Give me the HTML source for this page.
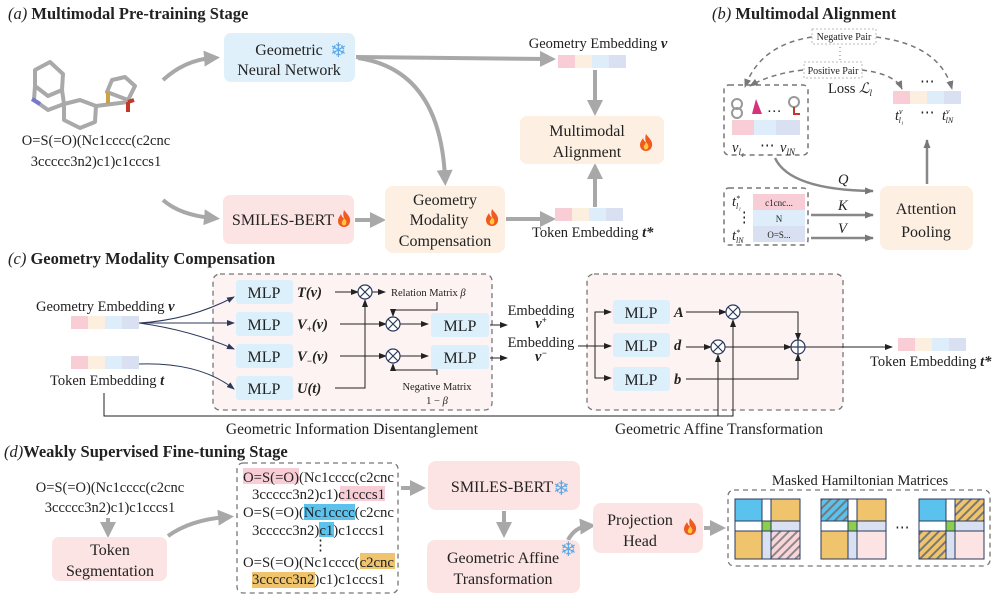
<!DOCTYPE html>
<html><head><meta charset="utf-8"><style>
html,body{margin:0;padding:0;background:#fff}
svg{display:block}
text{font-family:"Liberation Serif",serif;fill:#222}
.t{font-size:16px}
.s{font-size:14.5px}
.xs{font-size:10px}
.h{font-size:16.5px;font-weight:bold}
.b{font-weight:bold;font-style:italic}
</style></head><body>
<svg width="995" height="602" viewBox="0 0 995 602" xmlns="http://www.w3.org/2000/svg">
<defs>
<marker id="ga" markerWidth="4" markerHeight="4" refX="2" refY="2" orient="auto"><path d="M0,0L4,2L0,4z" fill="#a8a8a8"/></marker>
<marker id="ka" markerWidth="8" markerHeight="6" refX="7" refY="3" orient="auto" markerUnits="userSpaceOnUse"><path d="M0,0L8,3L0,6z" fill="#222"/></marker>
<marker id="na" markerWidth="8" markerHeight="6" refX="7" refY="3" orient="auto" markerUnits="userSpaceOnUse"><path d="M0,0L8,3L0,6z" fill="#2b3a5c"/></marker>
<marker id="da" markerWidth="9" markerHeight="7" refX="8" refY="3.5" orient="auto" markerUnits="userSpaceOnUse"><path d="M0,0L9,3.5L0,7z" fill="#777"/></marker>
<pattern id="hb" width="6" height="6" patternUnits="userSpaceOnUse" patternTransform="rotate(45)"><rect width="6" height="6" fill="#5bc2ee"/><rect width="2" height="6" fill="#777"/></pattern>
<pattern id="ho" width="6" height="6" patternUnits="userSpaceOnUse" patternTransform="rotate(45)"><rect width="6" height="6" fill="#efc46d"/><rect width="2" height="6" fill="#777"/></pattern>
<pattern id="hp" width="6" height="6" patternUnits="userSpaceOnUse" patternTransform="rotate(45)"><rect width="6" height="6" fill="#f9d4d8"/><rect width="2" height="6" fill="#888"/></pattern>
<g id="fire"><path d="M6,0 C9,4 13,7 12,12 C11,16 8,17 6,17 C3,17 0,15 0,11 C0,8 2,6 3,4 C4,7 5,8 6,8 C5,5 5,3 6,0z" fill="#f05a22"/><path d="M6,8 C8,10 9,12 8,14 C7,16 5,16 4,14 C3,12 5,11 6,8z" fill="#ffc93c"/></g>
<g id="cells"><rect x="0" y="0" width="17" height="13" fill="#f8cdd5"/><rect x="17" y="0" width="17" height="13" fill="#fcefe0"/><rect x="34" y="0" width="17" height="13" fill="#ddeefa"/><rect x="51" y="0" width="17" height="13" fill="#d8e0f1"/></g>
</defs>

<!-- (a) -->
<text x="8" y="19" class="h"><tspan font-style="italic" font-weight="normal">(a)</tspan> Multimodal Pre-training Stage</text>
<g stroke="#a9a9a9" stroke-width="4" fill="none" stroke-linejoin="round">
<path d="M35,70 L50,62 L63,74 L62,90 L48,96 L35,86z"/>
<path d="M35,86 L34,100 L48,110 L64,104 L62,90"/>
<path d="M64,104 L64,120 L80,128 L95,122 L96,106 L80,100z"/>
<path d="M96,106 L112,104 L128,102"/>
<path d="M107,92 L112,80 L125,77 L135,86 L128,100 z"/>
</g>
<path d="M32,99 L40,104" stroke="#7777cc" stroke-width="4"/>
<path d="M108,92 L108,104" stroke="#c9a24a" stroke-width="4"/>
<path d="M128,102 L134,100" stroke="#c0392b" stroke-width="4"/>
<path d="M128,102 L128,112" stroke="#c0392b" stroke-width="4"/>
<text x="96" y="145" class="s" text-anchor="middle" font-size="15">O=S(=O)(Nc1cccc(c2cnc</text>
<text x="96" y="166" class="s" text-anchor="middle" font-size="15">3ccccc3n2)c1)c1cccs1</text>

<g stroke="#a8a8a8" stroke-width="4" fill="none">
<path d="M163,80 Q185,60 212,58" marker-end="url(#ga)"/>
<path d="M163,200 Q180,215 212,218" marker-end="url(#ga)"/>
<path d="M356,57 L548,59" marker-end="url(#ga)"/>
<path d="M358,58 Q440,70 445,178" marker-end="url(#ga)"/>
<path d="M355,220 L378,220" marker-end="url(#ga)"/>
<path d="M506,219 L548,219" marker-end="url(#ga)"/>
<path d="M595,207 L595,171" marker-end="url(#ga)"/>
<path d="M595,70 L595,108" marker-end="url(#ga)"/>
</g>
<rect x="224" y="33" width="131" height="49" rx="7" fill="#dff0fb"/>
<text x="289" y="55" class="t" text-anchor="middle">Geometric</text>
<text x="289" y="75" class="t" text-anchor="middle">Neural Network</text>
<text x="330" y="57" font-size="20" style="fill:#5aa7e6" font-family="DejaVu Sans">❄</text>
<rect x="223" y="195" width="131" height="49" rx="7" fill="#fde4e4"/>
<text x="283" y="225" class="t" text-anchor="middle">SMILES-BERT</text>
<use href="#fire" x="338" y="210"/>
<rect x="385" y="186" width="120" height="67" rx="8" fill="#fdf0e2"/>
<text x="445" y="205" class="t" text-anchor="middle">Geometry</text>
<text x="439" y="225" class="t" text-anchor="middle">Modality</text>
<text x="445" y="246" class="t" text-anchor="middle">Compensation</text>
<use href="#fire" x="486" y="209"/>
<rect x="520" y="116" width="144" height="48" rx="7" fill="#fdf0e2"/>
<text x="587" y="136" class="t" text-anchor="middle">Multimodal</text>
<text x="587" y="157" class="t" text-anchor="middle">Alignment</text>
<use href="#fire" x="640" y="134"/>
<text x="598" y="48" class="s" text-anchor="middle">Geometry Embedding <tspan class="b">v</tspan></text>
<use href="#cells" x="558" y="55"/>
<use href="#cells" x="555" y="208"/>
<text x="532" y="237" class="s">Token Embedding <tspan class="b">t*</tspan></text>

<!-- (b) -->
<text x="712" y="19" class="h"><tspan font-style="italic" font-weight="normal">(b)</tspan> Multimodal Alignment</text>
<g stroke="#777" stroke-width="1.5" stroke-dasharray="5,4" fill="none">
<path d="M812,37 Q760,45 745,87" marker-end="url(#da)"/>
<path d="M876,37 Q940,45 952,89" marker-end="url(#da)"/>
<path d="M803,70 Q770,74 750,86" marker-end="url(#da)"/>
<path d="M862,70 Q895,74 902,89" marker-end="url(#da)"/>
</g>
<path d="M840,47 L840,60" stroke="#777" stroke-dasharray="1,3"/>
<rect x="812" y="29" width="64" height="15" fill="#fff" stroke="#bbb" stroke-dasharray="2,2"/>
<text x="844" y="40" class="xs" text-anchor="middle">Negative Pair</text>
<rect x="804" y="62" width="58" height="16" fill="#fff" stroke="#bbb" stroke-dasharray="2,2"/>
<text x="833" y="74" class="xs" text-anchor="middle">Positive Pair</text>
<text x="828" y="93" class="s">Loss <tspan font-style="italic">ℒ<tspan font-size="9" dy="3">l</tspan></tspan></text>
<rect x="724" y="85" width="84" height="70" rx="5" fill="none" stroke="#777" stroke-width="1.5" stroke-dasharray="5,4"/>
<circle cx="737" cy="104" r="5" fill="none" stroke="#999" stroke-width="2"/><circle cx="737" cy="113" r="5" fill="none" stroke="#999" stroke-width="2"/>
<path d="M756,99 L762,114 L752,114z" fill="#d6337a"/>
<text x="767" y="112" class="s">…</text>
<circle cx="794" cy="102" r="5" fill="none" stroke="#999" stroke-width="2"/><path d="M794,107 L794,114 L800,114" stroke="#c0392b" stroke-width="2" fill="none"/>
<rect x="732" y="120" width="22" height="15" fill="#f8cdd5"/><rect x="754" y="120" width="22" height="15" fill="#ddeefa"/><rect x="776" y="120" width="24" height="15" fill="#d8e0f1"/>
<text x="732" y="152" class="s" font-style="italic">v<tspan font-size="9" dy="3">l₁</tspan></text>
<text x="760" y="150" class="s">⋯</text>
<text x="780" y="152" class="s" font-style="italic">v<tspan font-size="9" dy="3">lN</tspan></text>
<rect x="893" y="91" width="17" height="13" fill="#f8cdd5"/><rect x="910" y="91" width="17" height="13" fill="#fcefe0"/><rect x="927" y="91" width="17" height="13" fill="#ddeefa"/><rect x="944" y="91" width="17" height="13" fill="#d8e0f1"/>
<text x="920" y="86" class="s">⋯</text>
<text x="895" y="120" class="s" font-style="italic">t<tspan font-size="8" dy="-6">v</tspan><tspan font-size="8" dx="-4" dy="9">l₁</tspan></text>
<text x="920" y="117" class="s">⋯</text>
<text x="942" y="120" class="s" font-style="italic">t<tspan font-size="8" dy="-6">v</tspan><tspan font-size="8" dx="-4" dy="9">lN</tspan></text>
<path d="M927,184 L927,140" stroke="#888" stroke-width="2.5" marker-end="url(#da)"/>
<path d="M775,158 Q790,190 873,191" stroke="#888" stroke-width="2.5" fill="none" marker-end="url(#da)"/>
<path d="M811,215 L873,215" stroke="#888" stroke-width="2.5" marker-end="url(#da)"/>
<path d="M811,238 L873,238" stroke="#888" stroke-width="2.5" marker-end="url(#da)"/>
<text x="838" y="184" class="s" font-style="italic">Q</text>
<text x="838" y="210" class="s" font-style="italic">K</text>
<text x="838" y="233" class="s" font-style="italic">V</text>
<rect x="724" y="188" width="84" height="57" rx="5" fill="none" stroke="#777" stroke-width="1.5" stroke-dasharray="5,4"/>
<rect x="753" y="194" width="52" height="16" fill="#f8cdd5"/><rect x="753" y="210" width="52" height="16" fill="#ddeefa"/><rect x="753" y="226" width="52" height="16" fill="#d8e0f1"/>
<text x="779" y="206" font-size="9" text-anchor="middle">c1cnc...</text>
<text x="779" y="222" font-size="9" text-anchor="middle">N</text>
<text x="779" y="238" font-size="9" text-anchor="middle">O=S...</text>
<text x="732" y="206" class="s" font-style="italic">t<tspan font-size="8" dy="-5">*</tspan><tspan font-size="8" dx="-4" dy="8">l₁</tspan></text>
<text x="737" y="222" class="s">⋮</text>
<text x="732" y="240" class="s" font-style="italic">t<tspan font-size="8" dy="-5">*</tspan><tspan font-size="8" dx="-4" dy="8">lN</tspan></text>
<rect x="880" y="186" width="93" height="64" rx="8" fill="#fdf0e2"/>
<text x="926" y="214" class="t" text-anchor="middle">Attention</text>
<text x="926" y="237" class="t" text-anchor="middle">Pooling</text>

<!-- (c) -->
<text x="8" y="264" class="h"><tspan font-style="italic" font-weight="normal">(c)</tspan> Geometry Modality Compensation</text>
<rect x="213" y="274" width="279" height="136" rx="7" fill="#fdf3f2" stroke="#777" stroke-width="1.3" stroke-dasharray="5,4"/>
<rect x="587" y="274" width="256" height="136" rx="7" fill="#fdf3f2" stroke="#777" stroke-width="1.3" stroke-dasharray="5,4"/>
<text x="36" y="311" class="s">Geometry Embedding <tspan class="b">v</tspan></text>
<use href="#cells" x="71" y="316"/>
<use href="#cells" x="71" y="356"/>
<text x="50" y="385" class="s">Token Embedding <tspan class="b">t</tspan></text>
<g stroke="#2b3a5c" stroke-width="1" fill="none">
<path d="M139,323 Q190,320 234,297" marker-end="url(#na)"/>
<path d="M139,323 L234,323" marker-end="url(#na)"/>
<path d="M139,323 Q190,330 234,349" marker-end="url(#na)"/>
<path d="M139,364 Q200,362 234,389" marker-end="url(#na)"/>
</g>
<g fill="#dcf0fc">
<rect x="236" y="280" width="57" height="24" rx="3"/><rect x="236" y="312" width="57" height="24" rx="3"/><rect x="236" y="344" width="57" height="24" rx="3"/><rect x="236" y="376" width="57" height="24" rx="3"/>
<rect x="431" y="313" width="58" height="24" rx="3"/><rect x="431" y="345" width="58" height="24" rx="3"/>
<rect x="613" y="300" width="57" height="24" rx="3"/><rect x="613" y="333" width="57" height="24" rx="3"/><rect x="613" y="367" width="57" height="24" rx="3"/>
</g>
<g class="t" text-anchor="middle">
<text x="264" y="298">MLP</text><text x="264" y="330">MLP</text><text x="264" y="362">MLP</text><text x="264" y="394">MLP</text>
<text x="460" y="331">MLP</text><text x="460" y="363">MLP</text>
<text x="641" y="318">MLP</text><text x="641" y="351">MLP</text><text x="641" y="385">MLP</text>
</g>
<g font-size="14.5" font-weight="bold" font-style="italic">
<text x="297" y="297">T(v)</text><text x="297" y="329">V<tspan font-size="9" dy="3">+</tspan><tspan dy="-3">(v)</tspan></text><text x="297" y="361">V<tspan font-size="9" dy="3">−</tspan><tspan dy="-3">(v)</tspan></text><text x="297" y="393">U(t)</text>
<text x="674" y="317">A</text><text x="674" y="350">d</text><text x="674" y="384">b</text>
</g>
<g stroke="#222" stroke-width="1" fill="none">
<path d="M335,292 L358,292" marker-end="url(#ka)"/>
<path d="M372,292 L385,292" marker-end="url(#ka)"/>
<path d="M335,388 L365,388 L365,300" marker-end="url(#ka)"/>
<path d="M340,324 L386,324" marker-end="url(#ka)"/>
<path d="M400,324 L428,324" marker-end="url(#ka)"/>
<path d="M340,356 L386,356" marker-end="url(#ka)"/>
<path d="M400,356 L428,356" marker-end="url(#ka)"/>
<path d="M437,302 L437,310 L393,310 L393,316" marker-end="url(#ka)"/>
<path d="M437,375 L437,370 L393,370 L393,364" marker-end="url(#ka)"/>
<path d="M490,325 L507,325" marker-end="url(#ka)"/>
<path d="M490,358 L507,358" marker-end="url(#ka)"/>
<path d="M578,346 L611,346" marker-end="url(#ka)"/>
<path d="M595,346 L595,312 L611,312" marker-end="url(#ka)"/>
<path d="M595,346 L595,378 L611,378" marker-end="url(#ka)"/>
<path d="M686,312 L726,312" marker-end="url(#ka)"/>
<path d="M686,347 L711,347" marker-end="url(#ka)"/>
<path d="M725,347 L791,347" marker-end="url(#ka)"/>
<path d="M740,312 L798,312 L798,340" marker-end="url(#ka)"/>
<path d="M686,379 L798,379 L798,354" marker-end="url(#ka)"/>
<path d="M805,347 L892,347" marker-end="url(#ka)"/>
<path d="M104,393 L104,416 L733,416 L733,320" marker-end="url(#ka)"/>
<path d="M718,416 L718,355" marker-end="url(#ka)"/>
</g>
<g stroke="#2b3a5c" stroke-width="1.2" fill="#fff">
<circle cx="365" cy="292" r="7"/><circle cx="393" cy="324" r="7"/><circle cx="393" cy="356" r="7"/>
<circle cx="733" cy="312" r="7"/><circle cx="718" cy="347" r="7"/><circle cx="798" cy="347" r="7"/>
</g>
<g stroke="#2b3a5c" stroke-width="1.2">
<path d="M360,287L370,297M370,287L360,297"/><path d="M388,319L398,329M398,319L388,329"/><path d="M388,351L398,361M398,351L388,361"/>
<path d="M728,307L738,317M738,307L728,317"/><path d="M713,342L723,352M723,342L713,352"/><path d="M791,347L805,347M798,340L798,354"/>
</g>
<text x="391" y="296" font-size="10.5">Relation Matrix <tspan font-style="italic">β</tspan></text>
<text x="437" y="390" font-size="10.5" text-anchor="middle">Negative Matrix</text>
<text x="437" y="404" font-size="10.5" text-anchor="middle">1 − <tspan font-style="italic">β</tspan></text>
<text x="541" y="315" class="s" text-anchor="middle">Embedding</text>
<text x="541" y="328" class="s b" text-anchor="middle">v<tspan font-size="9" dy="-5">+</tspan></text>
<text x="541" y="347" class="s" text-anchor="middle">Embedding</text>
<text x="541" y="361" class="s b" text-anchor="middle">v<tspan font-size="9" dy="-5">−</tspan></text>
<use href="#cells" x="898" y="338"/>
<text x="870" y="366" class="s">Token Embedding <tspan class="b">t*</tspan></text>
<text x="352" y="434" font-size="15.5" text-anchor="middle">Geometric Information Disentanglement</text>
<text x="719" y="434" font-size="15.5" text-anchor="middle">Geometric Affine Transformation</text>

<!-- (d) -->
<text x="4" y="457" class="h"><tspan font-style="italic" font-weight="normal">(d)</tspan>Weakly Supervised Fine-tuning Stage</text>
<text x="110" y="492" class="s" text-anchor="middle">O=S(=O)(Nc1cccc(c2cnc</text>
<text x="110" y="512" class="s" text-anchor="middle">3ccccc3n2)c1)c1cccs1</text>
<g stroke="#a8a8a8" stroke-width="4" fill="none">
<path d="M108,518 L108,530" marker-end="url(#ga)"/>
<path d="M168,536 Q190,520 226,517" marker-end="url(#ga)"/>
<path d="M401,488 L418,488" marker-end="url(#ga)"/>
<path d="M504,511 L504,530" marker-end="url(#ga)"/>
<path d="M568,540 Q575,527 588,526" marker-end="url(#ga)"/>
<path d="M704,528 L718,528" marker-end="url(#ga)"/>
</g>
<rect x="52" y="537" width="115" height="44" rx="7" fill="#fde4e4"/>
<text x="110" y="555" class="t" text-anchor="middle">Token</text>
<text x="110" y="576" class="t" text-anchor="middle">Segmentation</text>
<rect x="237" y="463" width="161" height="130" rx="6" fill="none" stroke="#777" stroke-width="1.3" stroke-dasharray="5,4"/>
<rect x="243" y="468" width="56" height="16" fill="#f9cdd6"/>
<rect x="340" y="486" width="45" height="15" fill="#f9cdd6"/>
<rect x="304" y="504" width="51" height="16" fill="#5bc2ee"/>
<rect x="319" y="522" width="15" height="15" fill="#5bc2ee"/>
<rect x="360" y="553" width="35" height="16" fill="#efc46d"/>
<rect x="252" y="572" width="63" height="16" fill="#efc46d"/>
<g font-size="15">
<text x="243" y="482" textLength="151" lengthAdjust="spacingAndGlyphs">O=S(=O)(Nc1cccc(c2cnc</text>
<text x="252" y="499" textLength="133" lengthAdjust="spacingAndGlyphs">3ccccc3n2)c1)c1cccs1</text>
<text x="243" y="517" textLength="151" lengthAdjust="spacingAndGlyphs">O=S(=O)(Nc1cccc(c2cnc</text>
<text x="252" y="535" textLength="133" lengthAdjust="spacingAndGlyphs">3ccccc3n2)c1)c1cccs1</text>
<text x="313" y="550">⋮</text>
<text x="243" y="567" textLength="151" lengthAdjust="spacingAndGlyphs">O=S(=O)(Nc1cccc(c2cnc</text>
<text x="252" y="584" textLength="133" lengthAdjust="spacingAndGlyphs">3ccccc3n2)c1)c1cccs1</text>
</g>
<rect x="428" y="461" width="152" height="49" rx="8" fill="#fde4e4"/>
<text x="502" y="492" class="t" text-anchor="middle">SMILES-BERT</text>
<text x="553" y="495" font-size="20" style="fill:#5aa7e6" font-family="DejaVu Sans">❄</text>
<rect x="427" y="540" width="153" height="53" rx="8" fill="#fde4e4"/>
<text x="503" y="563" class="t" text-anchor="middle">Geometric Affine</text>
<text x="503" y="584" class="t" text-anchor="middle">Transformation</text>
<text x="560" y="556" font-size="20" style="fill:#5aa7e6" font-family="DejaVu Sans">❄</text>
<rect x="593" y="503" width="110" height="50" rx="8" fill="#fde4e4"/>
<text x="640" y="525" class="t" text-anchor="middle">Projection</text>
<text x="640" y="546" class="t" text-anchor="middle">Head</text>
<use href="#fire" x="684" y="518"/>
<text x="860" y="485" class="s" text-anchor="middle">Masked Hamiltonian Matrices</text>
<rect x="728" y="490" width="262" height="76" rx="6" fill="none" stroke="#777" stroke-width="1.3" stroke-dasharray="5,4"/>
<g stroke="#2b3a5c" stroke-width="1">
<g transform="translate(735,499)">
<rect x="0" y="0" width="27" height="22" fill="#5bc2ee"/><rect x="36" y="0" width="29" height="22" fill="#efc46d"/>
<rect x="0" y="32" width="27" height="28" fill="#efc46d"/><rect x="36" y="32" width="29" height="28" fill="url(#hp)"/>
<rect x="0" y="22" width="27" height="10" fill="#fff"/><rect x="36" y="22" width="29" height="10" fill="#d8e0f1"/>
<rect x="27" y="0" width="9" height="22" fill="#fff"/><rect x="27" y="32" width="9" height="28" fill="#d8e0f1"/>
<rect x="27" y="22" width="9" height="10" fill="#8bd04c"/>
</g>
<g transform="translate(821,499)">
<rect x="0" y="0" width="27" height="22" fill="url(#hb)"/><rect x="36" y="0" width="29" height="22" fill="#efc46d"/>
<rect x="0" y="32" width="27" height="28" fill="#efc46d"/><rect x="36" y="32" width="29" height="28" fill="#fde4e4"/>
<rect x="0" y="22" width="27" height="10" fill="#fff"/><rect x="36" y="22" width="29" height="10" fill="#d8e0f1"/>
<rect x="27" y="0" width="9" height="22" fill="#fff"/><rect x="27" y="32" width="9" height="28" fill="#d8e0f1"/>
<rect x="27" y="22" width="9" height="10" fill="#8bd04c"/>
</g>
<g transform="translate(919,499)">
<rect x="0" y="0" width="27" height="22" fill="#5bc2ee"/><rect x="36" y="0" width="29" height="22" fill="url(#ho)"/>
<rect x="0" y="32" width="27" height="28" fill="url(#ho)"/><rect x="36" y="32" width="29" height="28" fill="#fde4e4"/>
<rect x="0" y="22" width="27" height="10" fill="#fff"/><rect x="36" y="22" width="29" height="10" fill="#d8e0f1"/>
<rect x="27" y="0" width="9" height="22" fill="#fff"/><rect x="27" y="32" width="9" height="28" fill="#d8e0f1"/>
<rect x="27" y="22" width="9" height="10" fill="#8bd04c"/>
</g>
</g>
<text x="895" y="532" class="s">⋯</text>
</svg>
</body></html>
